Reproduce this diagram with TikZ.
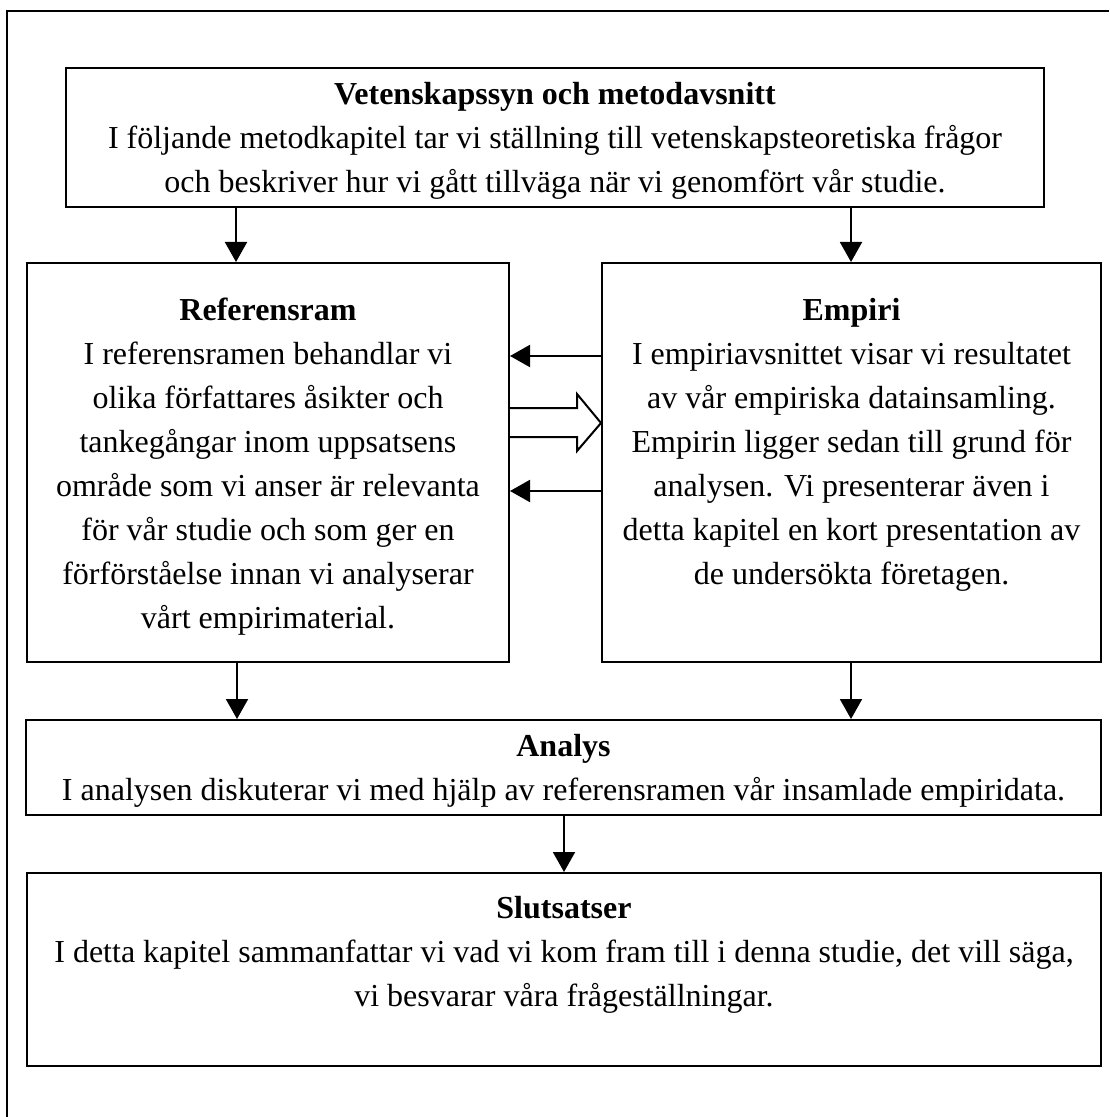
\documentclass[tikz,border=0pt]{standalone}
\usepackage{fontspec}
\setmainfont{Liberation Serif}
\usetikzlibrary{arrows.meta,calc}
\begin{document}
\begin{tikzpicture}[x=0.5pt,y=-0.5pt,
  box/.style={draw,line width=1pt,inner sep=0pt,rectangle},
  % anchor=base puts the last line's baseline at the given point
  txt/.style={align=center,inner sep=0pt,anchor=base,font=\fontsize{16}{22}\selectfont},
  flow/.style={line width=1pt,-{Triangle[width=11pt,length=10pt]}},
  hollow/.style={line width=1pt,line join=miter},
]
\useasboundingbox (0,0) rectangle (1109,1117);
% outer frame (left and top edges)
\draw[line width=1pt] (7,1117) -- (7,11) -- (1109,11);

% boxes
\node[box,minimum width=489pt,minimum height=69.5pt] (top) at (555,137.5) {};
\node[box,minimum width=241pt,minimum height=199.5pt] (ref) at (268,462.5) {};
\node[box,minimum width=249.5pt,minimum height=199.5pt] (emp) at (851.5,462.5) {};
\node[box,minimum width=537.5pt,minimum height=47.5pt] (ana) at (563.5,767.5) {};
\node[box,minimum width=537pt,minimum height=96.5pt] (slut) at (564,969.5) {};

% texts
\node[txt] (toptext) at (555,193) {\textbf{Vetenskapssyn och metodavsnitt}\\
  I följande metodkapitel tar vi ställning till vetenskapsteoretiska frågor\\
  och beskriver hur vi gått tillväga när vi genomfört vår studie.};
\node[txt] (reftext) at (268,628) {\textbf{Referensram}\\
  I referensramen behandlar vi\\
  olika författares åsikter och\\
  tankegångar inom uppsatsens\\
  område som vi anser är relevanta\\
  för vår studie och som ger en\\
  förförståelse innan vi analyserar\\
  vårt empirimaterial.};
\node[txt] (emptext) at (851.5,584) {\textbf{Empiri}\\
  I empiriavsnittet visar vi resultatet\\
  av vår empiriska datainsamling.\\
  Empirin ligger sedan till grund för\\
  analysen. Vi presenterar även i\\
  detta kapitel en kort presentation av\\
  de undersökta företagen.};
\node[txt] (anatext) at (563.5,800) {\textbf{Analys}\\
  I analysen diskuterar vi med hjälp av referensramen vår insamlade empiridata.};
\node[txt] (sluttext) at (564,1006) {\textbf{Slutsatser}\\
  I detta kapitel sammanfattar vi vad vi kom fram till i denna studie, det vill säga,\\
  vi besvarar våra frågeställningar.};

% vertical connectors
\draw[flow] (236,0 |- top.south) -- (236,0 |- ref.north);
\draw[flow] (851,0 |- top.south) -- (851,0 |- emp.north);
\draw[flow] (237,0 |- ref.south) -- (237,0 |- ana.north);
\draw[flow] (851,0 |- emp.south) -- (851,0 |- ana.north);
\draw[flow] (564,0 |- ana.south) -- (564,0 |- slut.north);

% horizontal connectors between Empiri and Referensram
\draw[flow] (emp.west |- 0,356) -- (ref.east |- 0,356);
\draw[flow] (emp.west |- 0,491) -- (ref.east |- 0,491);

% hollow block arrow from Referensram to Empiri
\coordinate (ha) at (ref.east |- 0,423);
\coordinate (hb) at (emp.west |- 0,423);
\draw[hollow] ($(ha)+(0,-15)$) -- ($(hb)+(-24,-15)$) -- ($(hb)+(-24,-29)$)
  -- (hb) -- ($(hb)+(-24,28)$) -- ($(hb)+(-24,14)$) -- ($(ha)+(0,14)$);
\end{tikzpicture}
\end{document}
